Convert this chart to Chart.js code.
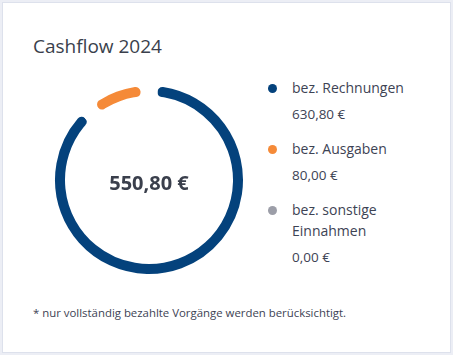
<!DOCTYPE html>
<html>
<head>
<meta charset="utf-8">
<script src="https://cdn.jsdelivr.net/npm/chart.js@4.4.1/dist/chart.umd.min.js"></script>
<style>
  html, body { margin: 0; padding: 0; background: #eceef5; }
  body { width: 453px; height: 355px; position: relative; overflow: hidden; font-family: "Open Sans", "Noto Sans", sans-serif; color: #3c4150; }
  .card { position: absolute; left: 2px; top: 2px; width: 447px; height: 349px; background: #fff; border: 1px solid #dde1ec; }
  .title { position: absolute; left: 30px; top: 30px; font-size: 19px; line-height: 26px; color: #3a3f4c; }
  .chartbox { position: absolute; left: 34.5px; top: 65.5px; width: 222px; height: 222px; }
  .legend { position: absolute; left: 264px; top: 74px; width: 180px; }
  .item { position: relative; padding-left: 25px; margin-bottom: 14px; }
  .dot { position: absolute; left: 1px; top: 7px; width: 9px; height: 9px; border-radius: 50%; }
  .lbl { font-size: 14px; line-height: 21px; color: #3d4354; }
  .val { font-size: 13.5px; line-height: 20px; margin-top: 6px; color: #3d4354; }
  .note { position: absolute; left: 30px; top: 302px; font-size: 11.4px; line-height: 16px; color: #3d4354; }
</style>
</head>
<body>
<div class="card">
  <div class="title">Cashflow 2024</div>
  <div class="chartbox"><canvas id="c"></canvas></div>
  <div class="legend" id="legend"></div>
  <div class="note">* nur vollständig bezahlte Vorgänge werden berücksichtigt.</div>
</div>
<script>
const categories = ["bez. Rechnungen", "bez. Ausgaben", "bez. sonstige Einnahmen"];
const legendLines = [["bez. Rechnungen"], ["bez. Ausgaben"], ["bez. sonstige", "Einnahmen"]];
const values = [630.80, 80.00, 0.00];
const colors = ["#04427c", "#f58a38", "#9c9ea8"];

const fmt = v => v.toFixed(2).replace(".", ",") + " €";
const net = values[0] - values[1] + values[2];

const legend = document.getElementById("legend");
categories.forEach((c, i) => {
  const it = document.createElement("div");
  it.className = "item";
  it.innerHTML = '<span class="dot" style="background:' + colors[i] + '"></span>' +
    '<div class="lbl">' + legendLines[i].join("<br>") + '</div>' +
    '<div class="val">' + fmt(values[i]) + '</div>';
  legend.appendChild(it);
});

const centerText = {
  id: "centerText",
  afterDraw(chart) {
    const meta = chart.getDatasetMeta(0);
    const arc = meta.data[0];
    const ctx = chart.ctx;
    ctx.save();
    ctx.font = "bold 20px 'Open Sans', 'Noto Sans', sans-serif";
    ctx.fillStyle = "#3a3f4c";
    ctx.textAlign = "center";
    ctx.textBaseline = "middle";
    ctx.fillText(fmt(net), arc.x, arc.y + 4);
    ctx.restore();
  }
};

new Chart(document.getElementById("c"), {
  type: "doughnut",
  data: {
    labels: categories,
    datasets: [{
      data: values,
      backgroundColor: colors,
      borderColor: "#ffffff",
      borderWidth: 17,
      borderAlign: "center",
      borderRadius: 13.5
    }]
  },
  options: {
    responsive: true,
    maintainAspectRatio: false,
    animation: false,
    cutout: "73.66%",
    layout: { padding: 0 },
    plugins: { legend: { display: false }, tooltip: { enabled: false } }
  },
  plugins: [centerText]
});
</script>
</body>
</html>
